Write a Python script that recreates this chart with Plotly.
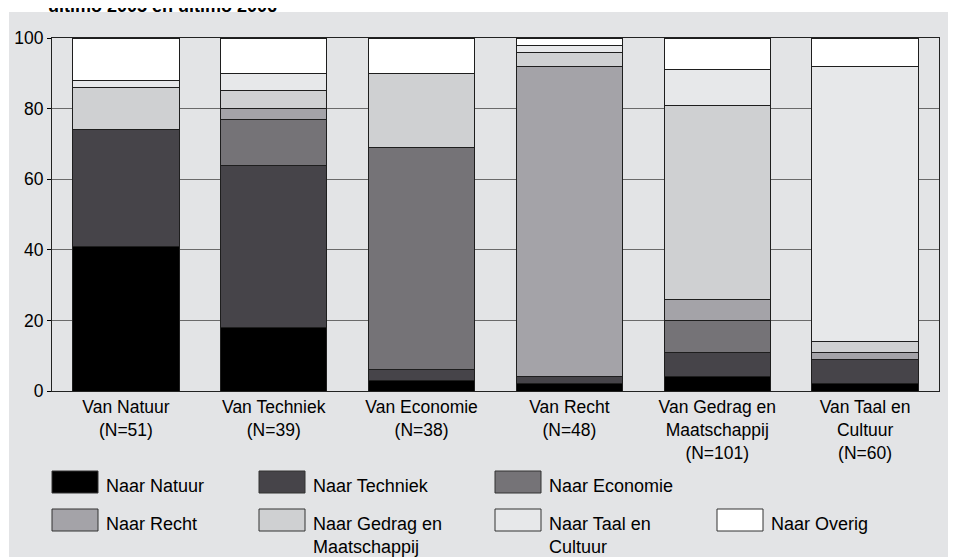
import plotly.graph_objects as go

# ---- data ----
categories = [
    "Van Natuur<br>(N=51)",
    "Van Techniek<br>(N=39)",
    "Van Economie<br>(N=38)",
    "Van Recht<br>(N=48)",
    "Van Gedrag en<br>Maatschappij<br>(N=101)",
    "Van Taal en<br>Cultuur<br>(N=60)",
]
series_labels = [
    "Naar Natuur",
    "Naar Techniek",
    "Naar Economie",
    "Naar Recht",
    "Naar Gedrag en<br>Maatschappij",
    "Naar Taal en<br>Cultuur",
    "Naar Overig",
]
naar_natuur = [41, 18, 3, 2, 4, 2]
naar_techniek = [33, 46, 3, 2, 7, 7]
naar_economie = [0, 13, 63, 0, 9, 0]
naar_recht = [0, 3, 0, 88, 6, 2]
naar_gedrag = [12, 5, 21, 4, 55, 3]
naar_taal = [2, 5, 0, 2, 10, 78]
naar_overig = [12, 10, 10, 2, 9, 8]
y_ticks = [0, 20, 40, 60, 80, 100]
title_text = "ultimo 2005 en ultimo 2006"

# ---- styles ----
colors = ["#000000", "#464449", "#757377", "#a4a3a8", "#cfd0d2", "#e7e8ea", "#ffffff"]
FONT = "Liberation Sans, Arial, Helvetica, sans-serif"
OFF = 8                      # page body margin offset
W, H = 956 - OFF, 557 - OFF  # figure size
# plot area in screen pixels
SL, SR, ST, SB = 52, 939, 38, 391
L, R, T, B = SL - OFF, SR - OFF, ST - OFF, SB - OFF

def px_x(sx):
    return (sx - OFF - L) / (R - L)

def px_y(sy):
    return (B - (sy - OFF)) / (B - T)

values = [naar_natuur, naar_techniek, naar_economie, naar_recht,
          naar_gedrag, naar_taal, naar_overig]

fig = go.Figure()
for lab, vals, col in zip(series_labels, values, colors):
    fig.add_trace(go.Bar(
        x=categories, y=vals, name=lab.replace("<br>", " "),
        marker=dict(color=col, line=dict(color="#1e1e1e", width=1)),
        showlegend=False,
    ))

shapes = [
    # gray page background
    dict(type="rect", xref="paper", yref="paper", layer="below",
         x0=px_x(9), x1=px_x(960), y0=px_y(12), y1=px_y(560),
         fillcolor="#e3e4e6", line=dict(width=0)),
]
annotations = [
    dict(text="<b>" + title_text + "</b>", xref="paper", yref="paper",
         x=px_x(46), y=px_y(6), xanchor="left", yanchor="middle",
         showarrow=False, font=dict(family=FONT, size=18, color="#000000")),
]

# manual legend (grid of swatches)
box_left = [52, 259, 495, 52, 259, 495, 717]
box_top = [471, 471, 471, 509, 509, 509, 509]
for lab, col, bx, by in zip(series_labels, colors, box_left, box_top):
    shapes.append(dict(type="rect", xref="paper", yref="paper", layer="above",
                       x0=px_x(bx), x1=px_x(bx + 46), y0=px_y(by), y1=px_y(by + 22),
                       fillcolor=col, line=dict(color="#333333", width=1)))
    annotations.append(dict(text=lab, xref="paper", yref="paper",
                            x=px_x(bx + 52), y=px_y(by + 3),
                            xanchor="left", yanchor="top", align="left",
                            showarrow=False,
                            font=dict(family=FONT, size=18, color="#000000")))

fig.update_layout(
    width=W, height=H,
    margin=dict(l=L, r=W - R, t=T, b=H - B, pad=0, autoexpand=False),
    barmode="stack", bargap=0.28,
    paper_bgcolor="#ffffff", plot_bgcolor="#ffffff",
    font=dict(family=FONT, size=17.5, color="#000000"),
    shapes=shapes, annotations=annotations,
    showlegend=False,
)
fig.update_xaxes(
    automargin=False,
    showline=True, linecolor="#222222", linewidth=1, mirror=True,
    ticks="", showgrid=False,
    tickfont=dict(family=FONT, size=17.5, color="#000000"),
)
fig.update_yaxes(
    automargin=False,
    range=[0, 100], tickvals=y_ticks,
    showline=True, linecolor="#222222", linewidth=1, mirror=True,
    ticks="outside", ticklen=4, tickcolor="#000000",
    showgrid=True, gridcolor="#6a6a6a", gridwidth=1.2, zeroline=False,
    tickfont=dict(family=FONT, size=17.5, color="#000000"),
)

fig.write_html("out.html")
